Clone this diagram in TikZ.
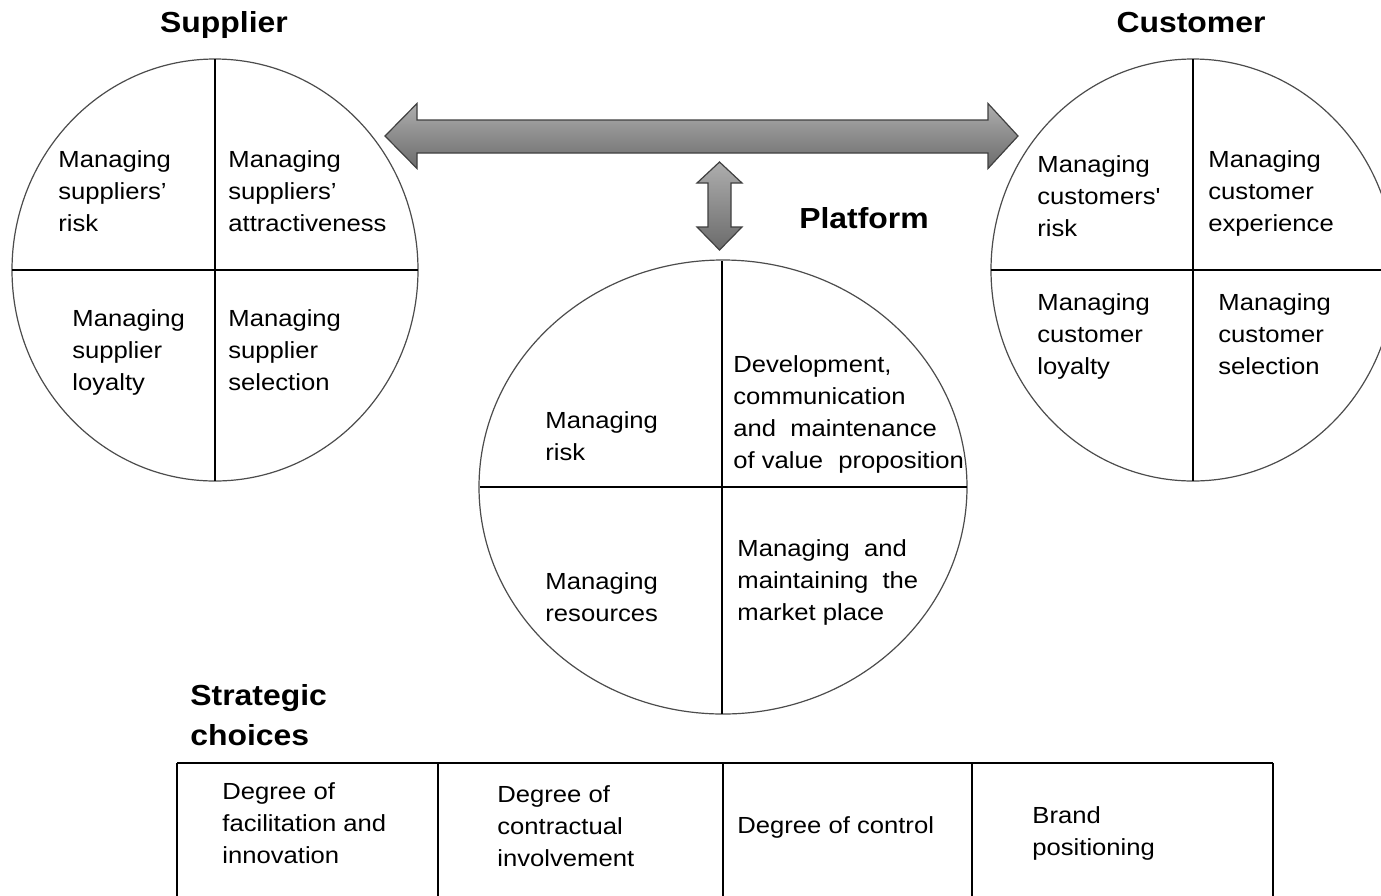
\documentclass[tikz,border=0pt]{standalone}
\usepackage{fontspec}
\setmainfont{Liberation Sans}[FakeStretch=1.1]
\begin{document}
\begin{tikzpicture}[x=0.5pt,y=-0.5pt,
  body/.style={font=\fontsize{11.65}{16}\selectfont, inner sep=0pt, anchor=north west, align=left,
    yshift=9pt, execute at begin node={\rule{0pt}{12pt}}},
  title/.style={font=\fontsize{14.5}{20}\selectfont\bfseries, inner sep=0pt, anchor=base},
  rim/.style={draw=black!70, line width=0.6pt},
  divider/.style={draw=black, line width=1pt},
  bigarrow/.style={draw=black!75, line width=0.6pt, top color=black!32, bottom color=black!58},
  cell/.style={draw=black, line width=0.9pt}]
\clip (0,0) rectangle (1381,895);
\fill[white] (0,0) rectangle (1381,895);

% ---- circles
\coordinate (S) at (215,270);
\coordinate (C) at (1193,270);
\coordinate (P) at (723,487);
\draw[rim] (S) ellipse [x radius=101.5pt, y radius=105.5pt];
\draw[rim] (C) ellipse [x radius=101pt, y radius=105.5pt];
\draw[rim] (P) ellipse [x radius=122pt, y radius=113.5pt];
\draw[divider] (215,59) -- (215,481);
\draw[divider] (12,270) -- (418,270);
\draw[divider] (1193,59) -- (1193,481);
\draw[divider] (991,270) -- (1395,270);
\draw[divider] (722,261) -- (722,714);
\draw[divider] (480,487) -- (967,487);

% ---- arrows
\draw[bigarrow] (385,136) -- (417,103.5) -- (417,120) -- (988,120) -- (988,103.5)
  -- (1018,136) -- (988,168.5) -- (988,153) -- (417,153) -- (417,168.5) -- cycle;
\draw[bigarrow] (719.5,162) -- (742,183) -- (731,183) -- (731,227) -- (742,227)
  -- (719.5,250) -- (697,227) -- (708,227) -- (708,183) -- (697,183) -- cycle;

% ---- titles
\node[title] (tS) at (224,32) {Supplier};
\node[title] (tC) at (1191,32) {Customer};
\node[title] (tP) at (864,228) {Platform};
\node[title] (tSC1) at (190,705) [anchor=base west] {Strategic};
\node[title] (tSC2) at (190,745) [anchor=base west] {choices};

% ---- supplier texts
\node[body] (s1) at (58,168) {Managing\\suppliers’\\risk};
\node[body] (s2) at (228,168) {Managing\\suppliers’\\attractiveness};
\node[body] (s3) at (72,327) {Managing\\supplier\\loyalty};
\node[body] (s4) at (228,327) {Managing\\supplier\\selection};

% ---- customer texts
\node[body] (c1) at (1037,173) {Managing\\customers\textquotesingle\\risk};
\node[body] (c2) at (1208,168) {Managing\\customer\\experience};
\node[body] (c3) at (1037,311) {Managing\\customer\\loyalty};
\node[body] (c4) at (1218,311) {Managing\\customer\\selection};

% ---- platform texts
\node[body] (p1) at (545,429) {Managing\\risk};
\node[body] (p2) at (733,373) {Development,\\communication\\and\hspace{0.3em} maintenance\\of value\hspace{0.35em} proposition};
\node[body] (p3) at (545,590) {Managing\\resources};
\node[body] (p4) at (737,557) {Managing\hspace{0.3em} and\\maintaining\hspace{0.3em} the\\market place};

% ---- strategic choices table
\draw[cell] (177,763) -- (1273,763);
\draw[cell] (177,763) -- (177,900);
\draw[cell] (438,763) -- (438,900);
\draw[cell] (723,763) -- (723,900);
\draw[cell] (972,763) -- (972,900);
\draw[cell] (1273,763) -- (1273,900);
\node[body] (t1) at (222,800) {Degree of\\facilitation and\\innovation};
\node[body] (t2) at (497,803) {Degree of\\contractual\\involvement};
\node[body] (t3) at (737,827) {Degree of control};
\node[body] (t4) at (1032,824) {Brand\\positioning};
\end{tikzpicture}
\end{document}
